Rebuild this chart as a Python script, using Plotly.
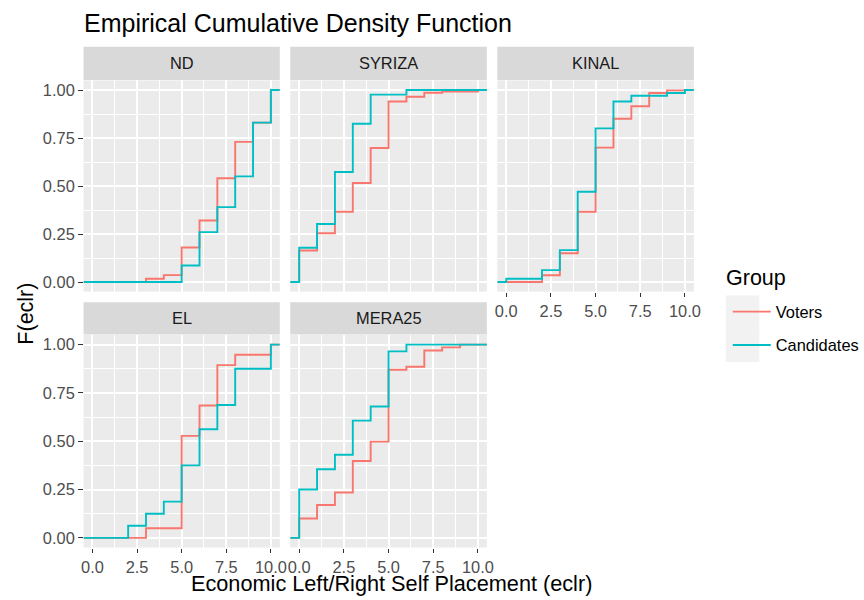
import plotly.graph_objects as go

# ---------------- data ----------------
PARTIES = ["ND", "SYRIZA", "KINAL", "EL", "MERA25"]
GROUPS = ["Voters", "Candidates"]
COLORS = {"Voters": "#F8766D", "Candidates": "#00BFC4"}

# step positions (eclr value) and ECDF value after each step
ND_VOTERS_X = [3, 4, 5, 6, 7, 8, 9, 10]
ND_VOTERS_F = [0.017, 0.036, 0.18, 0.32, 0.54, 0.73, 0.83, 1.0]
ND_CAND_X = [5, 6, 7, 8, 9, 10]
ND_CAND_F = [0.086, 0.26, 0.39, 0.55, 0.83, 1.0]

SYRIZA_VOTERS_X = [0, 1, 2, 3, 4, 5, 6, 7, 8, 10]
SYRIZA_VOTERS_F = [0.164, 0.254, 0.366, 0.516, 0.698, 0.94, 0.965, 0.986, 0.992, 1.0]
SYRIZA_CAND_X = [0, 1, 2, 3, 4, 6]
SYRIZA_CAND_F = [0.178, 0.302, 0.573, 0.824, 0.976, 1.0]

KINAL_VOTERS_X = [2, 3, 4, 5, 6, 7, 8, 9, 10]
KINAL_VOTERS_F = [0.035, 0.15, 0.366, 0.70, 0.85, 0.915, 0.984, 0.998, 1.0]
KINAL_CAND_X = [0, 2, 3, 4, 5, 6, 7, 9, 10]
KINAL_CAND_F = [0.017, 0.062, 0.166, 0.47, 0.80, 0.94, 0.97, 0.984, 1.0]

EL_VOTERS_X = [3, 5, 6, 7, 8, 10]
EL_VOTERS_F = [0.05, 0.528, 0.685, 0.894, 0.948, 1.0]
EL_CAND_X = [2, 3, 4, 5, 6, 7, 8, 10]
EL_CAND_F = [0.0625, 0.125, 0.1875, 0.375, 0.5625, 0.6875, 0.875, 1.0]

MERA25_VOTERS_X = [0, 1, 2, 3, 4, 5, 6, 7, 8, 9]
MERA25_VOTERS_F = [0.10, 0.17, 0.235, 0.398, 0.498, 0.87, 0.886, 0.97, 0.986, 1.0]
MERA25_CAND_X = [0, 1, 2, 3, 4, 5, 6]
MERA25_CAND_F = [0.25, 0.355, 0.43, 0.607, 0.68, 0.965, 1.0]

SERIES = {
    "ND": {"Voters": (ND_VOTERS_X, ND_VOTERS_F), "Candidates": (ND_CAND_X, ND_CAND_F)},
    "SYRIZA": {"Voters": (SYRIZA_VOTERS_X, SYRIZA_VOTERS_F), "Candidates": (SYRIZA_CAND_X, SYRIZA_CAND_F)},
    "KINAL": {"Voters": (KINAL_VOTERS_X, KINAL_VOTERS_F), "Candidates": (KINAL_CAND_X, KINAL_CAND_F)},
    "EL": {"Voters": (EL_VOTERS_X, EL_VOTERS_F), "Candidates": (EL_CAND_X, EL_CAND_F)},
    "MERA25": {"Voters": (MERA25_VOTERS_X, MERA25_VOTERS_F), "Candidates": (MERA25_CAND_X, MERA25_CAND_F)},
}

X_TICKS = [0, 2.5, 5, 7.5, 10]
X_TICK_LABELS = ["0.0", "2.5", "5.0", "7.5", "10.0"]
X_MINOR = [1.25, 3.75, 6.25, 8.75]
Y_TICKS = [0, 0.25, 0.5, 0.75, 1.0]
Y_TICK_LABELS = ["0.00", "0.25", "0.50", "0.75", "1.00"]
Y_MINOR = [0.125, 0.375, 0.625, 0.875]
X_RANGE = [-0.5, 10.5]
Y_RANGE = [-0.05, 1.05]

TITLE = "Empirical Cumulative Density Function"
X_TITLE = "Economic Left/Right Self Placement (eclr)"
Y_TITLE = "F(eclr)"
LEGEND_TITLE = "Group"

# ---------------- layout geometry (pixels) ----------------
W, H = 864, 600
FONT = "Liberation Sans, Arial, sans-serif"
SMALL = 16.4
COLS = [(82.7, 281.7), (292.3, 491.7), (502.3, 701.6)]
ROWS = [(80.4, 291.6), (335.0, 547.5)]
STRIPS = [(46.7, 80.0), (302.3, 334.6)]


def fx(p):
    return p / W


def fy(p):
    return 1 - p / H


fig = go.Figure()
shapes = []
annotations = []

for i, party in enumerate(PARTIES):
    r, c = divmod(i, 3)
    n = i + 1
    xa = "x" if n == 1 else f"x{n}"
    ya = "y" if n == 1 else f"y{n}"
    for g in GROUPS:
        xs, fs = SERIES[party][g]
        fig.add_trace(go.Scatter(
            x=[X_RANGE[0]] + list(xs) + [X_RANGE[1]],
            y=[0] + list(fs) + [fs[-1]],
            mode="lines", line=dict(color=COLORS[g], width=1.9, shape="hv"),
            name=g, legendgroup=g, showlegend=(i == 0),
            xaxis=xa, yaxis=ya, hoverinfo="skip",
        ))
    # bottom-most panel in each column shows x labels
    show_x = (r == 1) or (c == 2)
    show_y = (c == 0)
    x0, x1 = COLS[c]
    y0, y1 = ROWS[r]
    xkey = "xaxis" if n == 1 else f"xaxis{n}"
    ykey = "yaxis" if n == 1 else f"yaxis{n}"
    fig.layout[xkey] = dict(
        domain=[fx(x0), fx(x1)], range=X_RANGE, anchor=ya,
        tickmode="array", tickvals=X_TICKS, ticktext=X_TICK_LABELS,
        showticklabels=show_x, ticks="outside" if show_x else "",
        ticklen=4.5, tickwidth=1.1, tickcolor="#333333",
        tickfont=dict(family=FONT, size=SMALL, color="#4D4D4D"),
        showgrid=True, gridcolor="white", gridwidth=2, zeroline=False,
        showline=False,
        minor=dict(tickmode="array", tickvals=X_MINOR, showgrid=True,
                   gridcolor="white", gridwidth=1, ticks=""),
    )
    fig.layout[ykey] = dict(
        domain=[fy(y1), fy(y0)], range=Y_RANGE, anchor=xa,
        tickmode="array", tickvals=Y_TICKS, ticktext=Y_TICK_LABELS,
        showticklabels=show_y, ticks="outside" if show_y else "",
        ticklen=4.5, tickwidth=1.1, tickcolor="#333333",
        tickfont=dict(family=FONT, size=SMALL, color="#4D4D4D"),
        showgrid=True, gridcolor="white", gridwidth=2, zeroline=False,
        showline=False,
        minor=dict(tickmode="array", tickvals=Y_MINOR, showgrid=True,
                   gridcolor="white", gridwidth=1, ticks=""),
    )
    s0, s1 = STRIPS[r]
    shapes.append(dict(type="rect", xref="paper", yref="paper",
                       x0=fx(x0), x1=fx(x1), y0=fy(s1), y1=fy(s0),
                       fillcolor="#D9D9D9", line=dict(width=0), layer="below"))
    annotations.append(dict(text=party, xref="paper", yref="paper",
                            x=fx((x0 + x1) / 2), y=fy((s0 + s1) / 2),
                            xanchor="center", yanchor="middle", showarrow=False,
                            font=dict(family=FONT, size=SMALL, color="#1A1A1A")))

# legend key backgrounds
for k in range(2):
    shapes.append(dict(type="rect", xref="paper", yref="paper",
                       x0=fx(734), x1=fx(768), y0=fy(329 + 33 * k), y1=fy(295 + 33 * k + 0.5),
                       fillcolor="#F2F2F2", line=dict(width=0), layer="below"))

annotations += [
    dict(text=TITLE, xref="paper", yref="paper", x=fx(81), y=fy(23),
         xanchor="left", yanchor="middle", showarrow=False,
         font=dict(family=FONT, size=25, color="black")),
    dict(text=X_TITLE, xref="paper", yref="paper", x=fx(395), y=fy(583),
         xanchor="center", yanchor="middle", showarrow=False,
         font=dict(family=FONT, size=21.7, color="black")),
    dict(text=Y_TITLE, xref="paper", yref="paper", x=fx(24), y=fy(314),
         xanchor="center", yanchor="middle", showarrow=False, textangle=-90,
         font=dict(family=FONT, size=21.5, color="black")),
    dict(text=LEGEND_TITLE, xref="paper", yref="paper", x=fx(732), y=fy(278),
         xanchor="left", yanchor="middle", showarrow=False,
         font=dict(family=FONT, size=21.5, color="black")),
]

fig.update_layout(
    width=W, height=H, margin=dict(l=0, r=0, t=0, b=0),
    paper_bgcolor="white", plot_bgcolor="#EBEBEB",
    shapes=shapes, annotations=annotations,
    showlegend=True,
    legend=dict(
        x=fx(736), y=fy(294.5), xanchor="left", yanchor="top",
        font=dict(family=FONT, size=SMALL, color="black"),
        bgcolor="rgba(0,0,0,0)", tracegroupgap=9, itemwidth=38,
    ),
)

fig.write_html("out.html", config={"displayModeBar": False},
               post_script="document.body.style.margin='0px';")
